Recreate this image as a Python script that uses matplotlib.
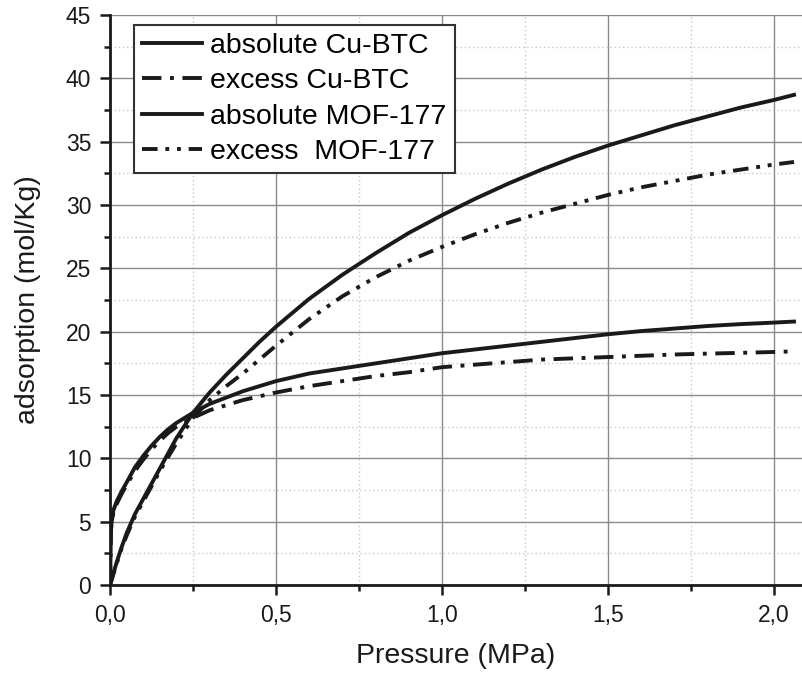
import matplotlib.pyplot as plt
from matplotlib.ticker import MultipleLocator, FuncFormatter

plt.rcParams['font.family'] = ['Liberation Sans', 'DejaVu Sans']

# pressure points (MPa)
pressure = [0, 0.003, 0.01, 0.02, 0.035, 0.05, 0.075, 0.1, 0.125, 0.15, 0.175,
            0.2, 0.25, 0.3, 0.35, 0.4, 0.45, 0.5, 0.6, 0.7, 0.8, 0.9, 1.0,
            1.1, 1.2, 1.3, 1.4, 1.5, 1.6, 1.7, 1.8, 1.9, 2.0, 2.06]

abs_cubtc = [0, 4.6, 5.9, 6.6, 7.4, 8.1, 9.3, 10.2, 11.0, 11.7, 12.3,
             12.8, 13.6, 14.3, 14.8, 15.3, 15.7, 16.1, 16.7, 17.1, 17.5, 17.9, 18.3,
             18.6, 18.9, 19.2, 19.5, 19.8, 20.05, 20.25, 20.45, 20.6, 20.72, 20.8]
exc_cubtc = [0, 4.4, 5.7, 6.4, 7.2, 7.9, 9.0, 9.9, 10.7, 11.4, 12.0,
             12.5, 13.2, 13.8, 14.2, 14.6, 14.9, 15.2, 15.7, 16.1, 16.5, 16.8, 17.2,
             17.4, 17.6, 17.8, 17.9, 18.0, 18.1, 18.2, 18.27, 18.33, 18.4, 18.45]
abs_mof = [0, 0.27, 0.9, 1.8, 3.0, 4.1, 5.6, 6.8, 8.0, 9.2, 10.4,
           11.6, 13.6, 15.2, 16.6, 17.9, 19.2, 20.4, 22.6, 24.5, 26.2, 27.8, 29.2,
           30.5, 31.7, 32.8, 33.8, 34.7, 35.5, 36.3, 37.0, 37.7, 38.3, 38.7]
exc_mof = [0, 0.25, 0.85, 1.7, 2.9, 3.9, 5.4, 6.6, 7.8, 9.0, 10.1,
           11.2, 13.2, 14.6, 15.7, 16.7, 17.8, 18.9, 21.0, 22.8, 24.3, 25.6, 26.7,
           27.7, 28.6, 29.4, 30.1, 30.8, 31.4, 31.9, 32.4, 32.8, 33.2, 33.4]

labels = ['absolute Cu-BTC', 'excess Cu-BTC', 'absolute MOF-177', 'excess  MOF-177']

fig = plt.figure(figsize=(8.02, 6.75), dpi=100)
ax = fig.add_axes([0.1372, 0.1333, 0.8628, 0.8444])

col = '#1a1a1a'
lw = 2.8
ax.plot(pressure, abs_cubtc, color=col, lw=lw, label=labels[0])
ax.plot(pressure, exc_cubtc, color=col, lw=lw, linestyle=(0, (5, 2.2, 1, 2.2)), label=labels[1])
ax.plot(pressure, abs_mof, color=col, lw=lw, label=labels[2])
ax.plot(pressure, exc_mof, color=col, lw=lw, linestyle=(0, (4, 2, 1, 2, 1, 2)), label=labels[3])

ax.set_xlim(0, 2.084)
ax.set_ylim(0, 45)
ax.xaxis.set_major_locator(MultipleLocator(0.5))
ax.xaxis.set_minor_locator(MultipleLocator(0.25))
ax.yaxis.set_major_locator(MultipleLocator(5))
ax.yaxis.set_minor_locator(MultipleLocator(2.5))
ax.xaxis.set_major_formatter(FuncFormatter(lambda v, p: f'{v:.1f}'.replace('.', ',')))

ax.grid(which='major', color='#8a8a8a', lw=1.0)
ax.grid(which='minor', color='#c8c8c8', lw=1.0, linestyle=(0, (1, 2)))
ax.set_axisbelow(True)

for s in ['top', 'right']:
    ax.spines[s].set_visible(False)
for s in ['left', 'bottom']:
    ax.spines[s].set_linewidth(2.0)
    ax.spines[s].set_color(col)

ax.tick_params(which='major', direction='out', length=7.5, width=1.8, labelsize=16.5,
               colors=col, pad=6)
ax.tick_params(which='minor', direction='out', length=4.5, width=1.8, colors=col)

ax.set_xlabel('Pressure (MPa)', fontsize=20.5, color='#1a1a1a', labelpad=12)
ax.set_ylabel('adsorption (mol/Kg)', fontsize=20.5, color='#1a1a1a', labelpad=18)

leg = ax.legend(loc='upper left', bbox_to_anchor=(0.0347, 0.982), borderaxespad=0,
                fontsize=20.5, frameon=True, fancybox=False, framealpha=1,
                edgecolor='#333333', handlelength=2.1, handletextpad=0.3,
                labelspacing=0.32, borderpad=0.28)
leg.get_frame().set_linewidth(1.5)

fig.savefig('out.png', dpi=100)
